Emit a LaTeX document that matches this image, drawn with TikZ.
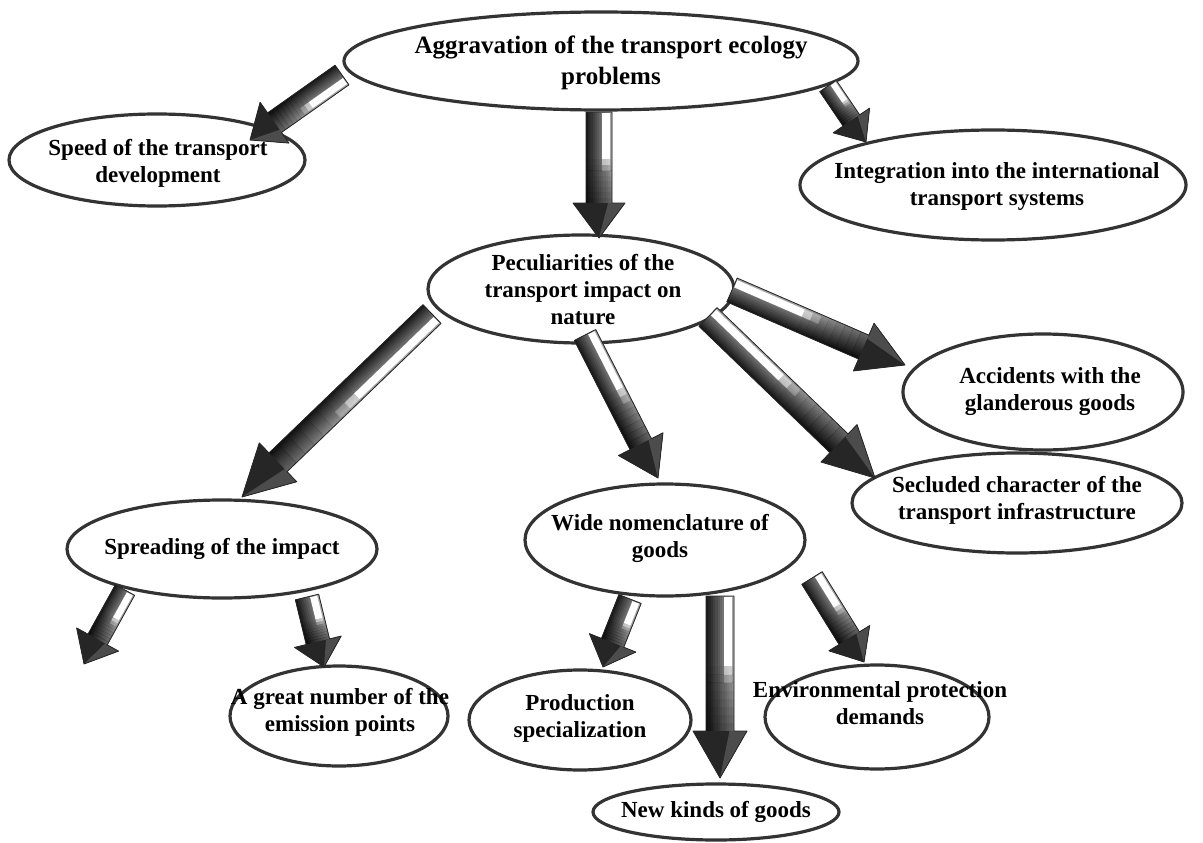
\documentclass[tikz,border=0pt]{standalone}
\usepackage{fontspec}
\setmainfont{Liberation Serif}
\usetikzlibrary{calc,shapes.geometric}
\newcommand\blockarrow[5]{%
  \path let \p1=($(#2)-(#1)$) in \pgfextra{%
    \pgfmathsetmacro\tmpang{atan2(\y1,\x1)}%
    \pgfmathsetmacro\tmplen{veclen(\x1,\y1)}%
    \global\let\barang\tmpang \global\let\barlen\tmplen};
  \pgfmathsetmacro\barsh{\barlen-#5}%
  \pgfmathsetmacro\barhalf{0.52*\barsh}%
  \begin{scope}[shift={(#1)},rotate=\barang]
    \fill[black!80] (0pt,-#3pt) -- (\barsh pt,-#3pt) -- (\barsh pt,-#4pt) -- (\barlen pt,0pt)
      -- (\barsh pt,#4pt) -- (\barsh pt,#3pt) -- (0pt,#3pt) -- cycle;
    \foreach \k in {0,...,11}{%
      \pgfmathsetmacro\ya{-#3+2*#3*\k/12}%
      \pgfmathsetmacro\yb{-#3+2*#3*(\k+1)/12+0.3}%
      \pgfmathtruncatemacro\cc{90-5*\k}%
      \fill[black!\cc] (0pt,\ya pt) rectangle (\barsh pt,\yb pt);
    }
    \foreach \j in {1,...,8}{%
      \pgfmathsetmacro\xa{\barhalf+(\j-1)*(\barsh-\barhalf)/8}%
      \pgfmathsetmacro\xb{\barhalf+\j*(\barsh-\barhalf)/8+0.3}%
      \pgfmathsetmacro\op{0.05*\j}%
      \fill[black,opacity=\op] (\xa pt,-#3pt) rectangle (\xb pt,#3pt);
    }
    \fill[white] (1pt,0.25*#3pt) rectangle (\barhalf pt,0.85*#3pt);
    \fill[white,opacity=0.55] (\barhalf pt,0.25*#3pt) rectangle (1.12*\barhalf pt,0.85*#3pt);
    \fill[white,opacity=0.25] (1.12*\barhalf pt,0.25*#3pt) rectangle (1.24*\barhalf pt,0.85*#3pt);
    \fill[black!85] (\barsh pt,-#4pt) -- (\barlen pt,0pt) -- (\barsh pt,#4pt) -- cycle;
    \fill[black!70] (\barsh pt,#4pt) -- (\barlen pt,0pt) -- (\barsh pt,0.35*#4pt) -- cycle;
    \draw[black!85,line width=0.8pt,line join=round] (0pt,-#3pt) -- (\barsh pt,-#3pt) -- (\barsh pt,-#4pt) -- (\barlen pt,0pt)
      -- (\barsh pt,#4pt) -- (\barsh pt,#3pt) -- (0pt,#3pt) -- cycle;
  \end{scope}}
\tikzset{
  ell/.style={ellipse,draw=black!80,line width=3.2pt,fill=white,inner sep=0pt},
  lbl/.style={align=center,font=\fontsize{23}{27}\selectfont\bfseries,inner sep=0pt},
  ttl/.style={align=center,font=\fontsize{25}{31}\selectfont\bfseries,inner sep=0pt}
}
\begin{document}
\begin{tikzpicture}[x=1pt,y=-1pt]
\useasboundingbox[fill=white] (0,0) rectangle (1203,843);
% ellipses
\node[ell,minimum width=514pt,minimum height=98pt] (top) at (601,61) {};
\node[ell,minimum width=296pt,minimum height=92pt] (speed) at (157,160) {};
\node[ell,minimum width=386pt,minimum height=110pt] (integ) at (993,185) {};
\node[ell,minimum width=306pt,minimum height=108pt] (pecul) at (581,289) {};
\node[ell,minimum width=280pt,minimum height=116pt] (accid) at (1043,392) {};
\node[ell,minimum width=330pt,minimum height=100pt] (secl) at (1017,503) {};
\node[ell,minimum width=310pt,minimum height=98pt] (spread) at (222,549) {};
\node[ell,minimum width=280pt,minimum height=112pt] (wide) at (665,540) {};
\node[ell,minimum width=218pt,minimum height=100pt] (great) at (339,716) {};
\node[ell,minimum width=222pt,minimum height=100pt] (prod) at (580,720) {};
\node[ell,minimum width=224pt,minimum height=104pt] (env) at (877,717) {};
\node[ell,minimum width=246pt,minimum height=56pt] (newk) at (716,812) {};
% texts
\node[ttl] (ttop) at (611,63) {Aggravation of the transport ecology\\problems};
\node[lbl] (tspeed) at (158,163) {Speed of the transport\\development};
\node[lbl] (tinteg) at (997,187) {Integration into the international\\transport systems};
\node[lbl] (tpecul) at (583,290) {Peculiarities of the\\transport impact on\\nature};
\node[lbl] (taccid) at (1050,392) {Accidents with the\\glanderous goods};
\node[lbl] (tsecl) at (1017,500) {Secluded character of the\\transport infrastructure};
\node[lbl] (tspread) at (222,549) {Spreading of the impact};
\node[lbl] (twide) at (660,538) {Wide nomenclature of\\goods};
\node[lbl] (tgreat) at (340,712) {A great number of the\\emission points};
\node[lbl] (tprod) at (580,718) {Production\\specialization};
\node[lbl] (tenv) at (880,703) {Environmental protection\\demands};
\node[lbl] (tnewk) at (716,812) {New kinds of goods};
% arrow end points
\coordinate (a1) at (342,75);  \coordinate (b1) at (250,140);
\coordinate (a2) at (599,112); \coordinate (b2) at (599,238);
\coordinate (a3) at (828,86);  \coordinate (b3) at (866,142);
\coordinate (a4) at (432,314); \coordinate (b4) at (242,497);
\coordinate (a5) at (585,335); \coordinate (b5) at (658,478);
\coordinate (a6) at (708,317); \coordinate (b6) at (875,478);
\coordinate (a7) at (732,290); \coordinate (b7) at (905,365);
\coordinate (a8) at (125,590); \coordinate (b8) at (84,664);
\coordinate (a9) at (307,597); \coordinate (b9) at (324,667);
\coordinate (a10) at (630,599); \coordinate (b10) at (603,667);
\coordinate (a11) at (720,596); \coordinate (b11) at (720,778);
\coordinate (a12) at (812,578); \coordinate (b12) at (864,662);
\blockarrow{a1}{b1}{12}{25}{30}
\blockarrow{a2}{b2}{13}{26}{35}
\blockarrow{a3}{b3}{10}{22}{26}
\blockarrow{a4}{b4}{13}{27}{50}
\blockarrow{a5}{b5}{12}{25}{38}
\blockarrow{a6}{b6}{13}{26}{50}
\blockarrow{a7}{b7}{13}{26}{45}
\blockarrow{a8}{b8}{11}{24}{28}
\blockarrow{a9}{b9}{12}{24}{26}
\blockarrow{a10}{b10}{12}{25}{26}
\blockarrow{a11}{b11}{14}{27}{47}
\blockarrow{a12}{b12}{12}{24}{28}
\end{tikzpicture}
\end{document}
